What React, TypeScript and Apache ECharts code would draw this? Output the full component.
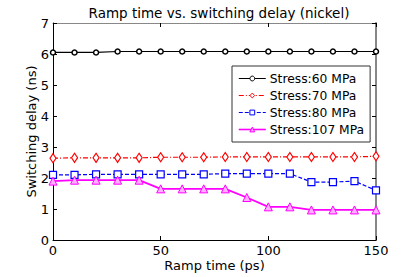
import React, { useEffect, useRef } from "react";
import * as echarts from "echarts";

const rampTimes = [0, 10, 20, 30, 40, 50, 60, 70, 80, 90, 100, 110, 120, 130, 140, 150];
const stress60 = [6.05, 6.05, 6.05, 6.08, 6.08, 6.08, 6.08, 6.08, 6.08, 6.08, 6.08, 6.08, 6.08, 6.08, 6.08, 6.08];
const stress70 = [2.64, 2.65, 2.65, 2.65, 2.65, 2.67, 2.67, 2.67, 2.68, 2.68, 2.68, 2.68, 2.68, 2.68, 2.68, 2.7];
const stress80 = [2.1, 2.1, 2.12, 2.12, 2.12, 2.12, 2.12, 2.12, 2.14, 2.14, 2.14, 2.14, 1.87, 1.87, 1.9, 1.6];
const stress107 = [1.9, 1.93, 1.93, 1.93, 1.93, 1.65, 1.65, 1.65, 1.65, 1.37, 1.07, 1.07, 0.97, 0.97, 0.97, 0.97];
const seriesNames = ["Stress:60 MPa", "Stress:70 MPa", "Stress:80 MPa", "Stress:107 MPa"];
const xTicks = [0, 50, 100, 150];
const yTicks = [0, 1, 2, 3, 4, 5, 6, 7];

const FONT = "DejaVu Sans";

export default function App() {
  const ref = useRef<HTMLDivElement>(null);
  useEffect(() => {
    const chart = echarts.init(ref.current!, undefined, { renderer: "svg" });
    const toPts = (arr: number[]) => rampTimes.map((x, i) => [x, arr[i]]);
    const axisCommon = {
      axisLine: { show: true, onZero: false, lineStyle: { color: "#000", width: 1 } },
      axisTick: { show: true, inside: true, length: 4, lineStyle: { color: "#000" } },
      splitLine: { show: false },
      axisLabel: { color: "#000", fontFamily: FONT, fontSize: 13 },
    };
    const lineWidths = [1.2, 1.2, 1.2, 1.8];
    chart.setOption({
      animation: false,
      backgroundColor: "#fff",
      title: {
        text: "Ramp time vs. switching delay (nickel)",
        left: 214,
        textAlign: "center",
        top: 1,
        textStyle: { fontFamily: FONT, fontSize: 13.5, fontWeight: "normal", color: "#000" },
      },
      grid: { left: 53, right: 39, top: 23, bottom: 34 },
      legend: {
        orient: "vertical",
        left: 232,
        top: 66,
        backgroundColor: "#fff",
        borderColor: "#333",
        borderWidth: 1,
        borderRadius: 0,
        padding: [4, 6, 4, 6],
        itemGap: 0,
        itemWidth: 27,
        itemHeight: 6,
        textStyle: { fontFamily: FONT, fontSize: 12.3, color: "#000", lineHeight: 17, padding: [0, 0, 0, -1] },
        data: seriesNames.map((n, i) => ({
          name: n,
          lineStyle: { width: i === 3 ? 1.6 : 1 },
          itemStyle: { borderWidth: 1 },
        })),
      },
      xAxis: [
        {
          ...axisCommon,
          type: "value",
          min: 0,
          max: 150,
          interval: 50,
          name: "Ramp time (ps)",
          nameLocation: "middle",
          nameGap: 19,
          nameMoveOverlap: false,
          nameTextStyle: { fontFamily: FONT, fontSize: 13, color: "#000" },
          axisLabel: { ...axisCommon.axisLabel, margin: 4, customValues: xTicks },
        },
        {
          ...axisCommon,
          type: "value",
          position: "top",
          min: 0,
          max: 150,
          interval: 50,
          axisLine: { show: true, onZero: false, lineStyle: { color: "#888", width: 1 } },
          axisLabel: { show: false },
        },
      ],
      yAxis: [
        {
          ...axisCommon,
          type: "value",
          min: 0,
          max: 7,
          interval: 1,
          name: "Switching delay (ns)",
          nameLocation: "middle",
          nameGap: 15,
          nameMoveOverlap: false,
          nameTextStyle: { fontFamily: FONT, fontSize: 13, color: "#000" },
          axisLabel: { ...axisCommon.axisLabel, margin: 4, customValues: yTicks },
        },
        {
          ...axisCommon,
          type: "value",
          position: "right",
          min: 0,
          max: 7,
          interval: 1,
          axisLine: { show: true, onZero: false, lineStyle: { color: "#888", width: 2 } },
          axisLabel: { show: false },
        },
      ],
      series: [
        {
          name: seriesNames[0],
          type: "line",
          data: toPts(stress60),
          color: "#000",
          symbol: "circle",
          symbolSize: 5,
          itemStyle: { color: "#fff", borderColor: "#000", borderWidth: 1.5 },
          lineStyle: { color: "#000", width: lineWidths[0], type: "solid" },
        },
        {
          name: seriesNames[1],
          type: "line",
          data: toPts(stress70),
          color: "#ff0000",
          symbol: "diamond",
          symbolSize: [6, 9],
          itemStyle: { color: "#fff", borderColor: "#ff0000", borderWidth: 1.2 },
          lineStyle: { color: "#ff0000", width: lineWidths[1], type: [5, 2, 1, 2] },
        },
        {
          name: seriesNames[2],
          type: "line",
          data: toPts(stress80),
          color: "#0000ff",
          symbol: "rect",
          symbolSize: 7,
          itemStyle: { color: "#fff", borderColor: "#0000ff", borderWidth: 1.2 },
          lineStyle: { color: "#0000ff", width: lineWidths[2], type: [4, 2] },
        },
        {
          name: seriesNames[3],
          type: "line",
          data: toPts(stress107),
          color: "#ff00ff",
          symbol: "triangle",
          symbolSize: 8,
          itemStyle: { color: "#ffb0ff", borderColor: "#ff00ff", borderWidth: 1 },
          lineStyle: { color: "#ff00ff", width: lineWidths[3], type: "solid" },
        },
      ],
    });
    return () => chart.dispose();
  }, []);
  return <div ref={ref} style={{ width: 415, height: 277, position: "fixed", left: 0, top: 0 }} />;
}
